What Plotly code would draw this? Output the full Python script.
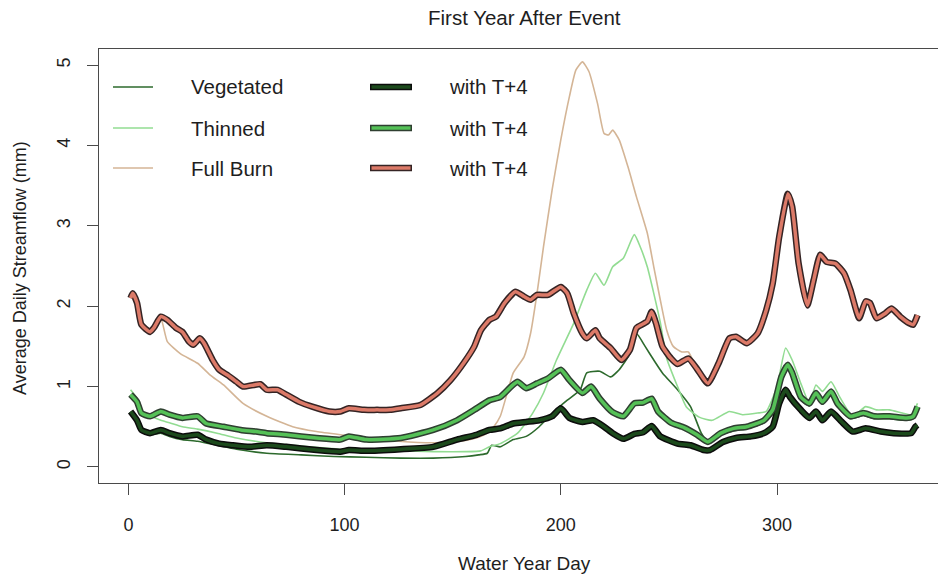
import plotly.graph_objects as go

# ---------------- data ----------------
veg_days = [1, 4, 6, 10, 15, 19, 25, 32, 41, 50, 64, 80, 95, 110, 126, 141, 156, 162, 166, 168, 172, 178, 184, 190, 196, 203,
            209, 212, 218, 223, 227, 232, 235, 239, 243, 247, 254, 260, 262, 265, 268, 274, 280, 286, 294, 298, 302, 305, 307,
            311, 315, 318, 321, 325, 328, 334, 340, 345, 352, 360, 363, 365]
veg_vals = [0.67, 0.56, 0.45, 0.40, 0.42, 0.38, 0.34, 0.32, 0.27, 0.22, 0.17, 0.15, 0.13, 0.12, 0.11, 0.11, 0.13, 0.15, 0.17, 0.27,
            0.25, 0.34, 0.38, 0.50, 0.67, 0.83, 0.96, 1.17, 1.19, 1.12, 1.21, 1.41, 1.66, 1.50, 1.33, 1.17, 0.96, 0.75, 0.62, 0.42,
            0.32, 0.40, 0.45, 0.48, 0.55, 0.66, 1.06, 1.22, 1.12, 0.84, 0.76, 0.88, 0.78, 0.90, 0.76, 0.60, 0.64, 0.60, 0.60, 0.58,
            0.60, 0.70]

thin_days = [1, 4, 6, 10, 15, 19, 25, 32, 41, 50, 64, 80, 98, 110, 126, 141, 156, 163, 167, 172, 180, 187, 192, 198, 206, 212,
             216, 220, 224, 229, 234, 237, 240, 243, 246, 249, 254, 258, 264, 270, 278, 284, 291, 295, 300, 304, 307, 311, 315,
             318, 321, 325, 329, 335, 341, 346, 352, 358, 362, 365]
thin_vals = [0.96, 0.85, 0.70, 0.64, 0.58, 0.55, 0.50, 0.47, 0.42, 0.36, 0.30, 0.26, 0.22, 0.21, 0.20, 0.19, 0.19, 0.20, 0.25,
             0.29, 0.42, 0.67, 0.92, 1.33, 1.79, 2.20, 2.41, 2.26, 2.49, 2.60, 2.89, 2.72, 2.49, 2.16, 1.80, 1.35, 1.00, 0.75,
             0.62, 0.58, 0.69, 0.65, 0.67, 0.69, 1.00, 1.48, 1.33, 1.04, 0.79, 1.02, 0.94, 1.06, 0.87, 0.63, 0.75, 0.71, 0.71,
             0.67, 0.65, 0.79]

burn_days = [1, 2, 4, 6, 10, 12, 15, 18, 24, 32, 38, 44, 53, 64, 76, 87, 98, 110, 125, 141, 156, 162, 166, 169, 172, 175, 178,
             183, 186, 189, 192, 196, 200, 204, 207, 210, 213, 217, 220, 222, 224, 227, 231, 235, 240, 243, 246, 249, 252, 256,
             259, 261, 263, 268, 273, 278, 281, 286, 291, 295, 298, 301, 305, 307, 310, 314, 317, 320, 323, 327, 331, 334, 338,
             341, 343, 346, 350, 353, 357, 361, 363, 365]
burn_vals = [2.10, 2.16, 2.04, 1.77, 1.68, 1.74, 1.85, 1.56, 1.41, 1.29, 1.14, 1.02, 0.79, 0.63, 0.50, 0.44, 0.40, 0.36, 0.32,
             0.30, 0.33, 0.37, 0.42, 0.50, 0.63, 0.90, 1.17, 1.37, 1.66, 2.16, 2.74, 3.45, 4.07, 4.61, 4.94, 5.04, 4.92, 4.52,
             4.15, 4.13, 4.19, 4.07, 3.74, 3.36, 2.91, 2.49, 2.08, 1.70, 1.50, 1.43, 1.43, 1.33, 1.25, 1.04, 1.29, 1.60, 1.62,
             1.54, 1.66, 1.95, 2.28, 2.86, 3.40, 3.24, 2.53, 2.01, 2.33, 2.64, 2.55, 2.53, 2.41, 2.20, 1.85, 2.06, 2.04, 1.85,
             1.91, 1.97, 1.87, 1.79, 1.77, 1.89]

veg4_days = [1, 4, 6, 10, 15, 19, 25, 32, 36, 42, 48, 56, 64, 73, 87, 98, 102, 110, 126, 141, 152, 161, 167, 172, 178, 184, 190,
             196, 200, 204, 210, 215, 220, 224, 229, 234, 238, 242, 246, 254, 260, 266, 269, 275, 281, 288, 294, 298, 301, 304,
             306, 311, 315, 318, 321, 325, 330, 335, 341, 348, 354, 362, 364, 365]
veg4_vals = [0.69, 0.58, 0.46, 0.42, 0.46, 0.42, 0.38, 0.40, 0.34, 0.29, 0.27, 0.25, 0.27, 0.25, 0.21, 0.19, 0.21, 0.20, 0.22,
             0.25, 0.34, 0.40, 0.46, 0.48, 0.54, 0.56, 0.58, 0.63, 0.73, 0.61, 0.56, 0.58, 0.50, 0.42, 0.35, 0.41, 0.43, 0.51,
             0.38, 0.29, 0.27, 0.21, 0.21, 0.31, 0.36, 0.38, 0.42, 0.50, 0.79, 0.96, 0.87, 0.71, 0.61, 0.69, 0.58, 0.69, 0.56,
             0.44, 0.48, 0.44, 0.42, 0.42, 0.50, 0.52]

thin4_days = [1, 4, 6, 10, 15, 19, 25, 32, 36, 44, 52, 59, 64, 73, 87, 98, 102, 110, 126, 141, 152, 160, 167, 172, 177, 180, 184,
              189, 194, 200, 204, 210, 214, 218, 224, 229, 234, 238, 242, 245, 251, 257, 263, 268, 274, 280, 286, 294, 298, 302,
              305, 307, 311, 315, 318, 321, 325, 328, 334, 340, 345, 352, 360, 363, 365]
thin4_vals = [0.90, 0.81, 0.67, 0.63, 0.69, 0.65, 0.61, 0.63, 0.54, 0.50, 0.46, 0.44, 0.42, 0.40, 0.36, 0.34, 0.38, 0.34, 0.36,
              0.46, 0.58, 0.71, 0.83, 0.87, 1.00, 1.06, 0.98, 1.04, 1.10, 1.21, 1.08, 0.92, 1.00, 0.85, 0.68, 0.63, 0.79, 0.80,
              0.85, 0.69, 0.55, 0.49, 0.40, 0.31, 0.42, 0.48, 0.50, 0.58, 0.71, 1.12, 1.27, 1.17, 0.87, 0.79, 0.92, 0.81, 0.94,
              0.79, 0.63, 0.67, 0.63, 0.63, 0.61, 0.63, 0.75]

burn4_days = [1, 2, 4, 6, 10, 12, 15, 18, 22, 25, 28, 30, 33, 35, 39, 42, 46, 50, 53, 58, 61, 64, 69, 73, 79, 85, 93, 98, 102,
              109, 115, 121, 126, 135, 143, 149, 155, 160, 163, 167, 170, 174, 179, 183, 186, 189, 194, 200, 203, 206, 210, 212,
              216, 218, 223, 228, 232, 235, 240, 242, 244, 247, 251, 254, 259, 263, 268, 273, 278, 281, 286, 291, 295, 298, 301,
              305, 307, 310, 314, 317, 320, 323, 327, 331, 334, 338, 341, 343, 346, 350, 353, 357, 361, 363, 365]
burn4_vals = [2.10, 2.16, 2.04, 1.77, 1.68, 1.74, 1.87, 1.83, 1.73, 1.68, 1.56, 1.52, 1.60, 1.54, 1.33, 1.21, 1.14, 1.06, 1.00,
              1.02, 1.03, 0.96, 0.96, 0.90, 0.81, 0.75, 0.69, 0.69, 0.73, 0.71, 0.71, 0.71, 0.73, 0.77, 0.92, 1.08, 1.29, 1.50,
              1.70, 1.83, 1.87, 2.04, 2.18, 2.12, 2.08, 2.14, 2.14, 2.24, 2.16, 1.91, 1.66, 1.60, 1.70, 1.60, 1.48, 1.33, 1.46,
              1.73, 1.81, 1.93, 1.79, 1.50, 1.35, 1.28, 1.35, 1.22, 1.04, 1.29, 1.60, 1.62, 1.54, 1.66, 1.95, 2.28, 2.86, 3.40,
              3.24, 2.53, 2.01, 2.33, 2.64, 2.55, 2.53, 2.41, 2.20, 1.85, 2.06, 2.04, 1.85, 1.91, 1.97, 1.87, 1.79, 1.77, 1.89]

x_ticks = [0, 100, 200, 300]
y_ticks = [0, 1, 2, 3, 4, 5]
legend_left = ["Vegetated", "Thinned", "Full Burn"]
legend_right = ["with T+4", "with T+4", "with T+4"]

# ---------------- styles ----------------
FONT = "Liberation Sans, Arial, Helvetica, sans-serif"
TXT = "#1e1e1e"
W, H = 938, 577
L, R, T, B = 99, 0, 49, 94
PW, PH = W - L - R, H - T - B

C_VEG = "#2d6a2d"
C_THIN = "#92dc92"
C_BURN = "#d4b596"
thick_styles = [
    ("#0c0c0c", "#1c4a1c"),   # veg T+4
    ("#2f3f31", "#55c157"),   # thinned T+4
    ("#352424", "#dc7a68"),   # burn T+4
]

SPL = dict(shape="spline", smoothing=0.5)

fig = go.Figure()
for d, v, c in [(veg_days, veg_vals, C_VEG), (thin_days, thin_vals, C_THIN), (burn_days, burn_vals, C_BURN)]:
    fig.add_trace(go.Scatter(x=d, y=v, mode="lines", line=dict(color=c, width=1.6, **SPL),
                             showlegend=False, hoverinfo="skip"))

for (d, v), (oc, ic) in zip([(veg4_days, veg4_vals), (thin4_days, thin4_vals), (burn4_days, burn4_vals)], thick_styles):
    fig.add_trace(go.Scatter(x=d, y=v, mode="lines", line=dict(color=oc, width=6.5, **SPL),
                             showlegend=False, hoverinfo="skip"))
    fig.add_trace(go.Scatter(x=d, y=v, mode="lines", line=dict(color=ic, width=3.5, **SPL),
                             showlegend=False, hoverinfo="skip"))


def px_x(px):
    return (px - L) / PW


def px_y(py):
    return (H - B - py) / PH


shapes = []
annotations = []
rows = [87, 128, 168]
thin_cols = [C_VEG, C_THIN, C_BURN]
for i, ry in enumerate(rows):
    shapes.append(dict(type="line", xref="paper", yref="paper", x0=px_x(113), x1=px_x(153), y0=px_y(ry), y1=px_y(ry),
                       line=dict(color=thin_cols[i], width=1.6)))
    oc, ic = thick_styles[i]
    shapes.append(dict(type="line", xref="paper", yref="paper", x0=px_x(370), x1=px_x(412), y0=px_y(ry), y1=px_y(ry),
                       line=dict(color=oc, width=6.5)))
    shapes.append(dict(type="line", xref="paper", yref="paper", x0=px_x(371.5), x1=px_x(410.5), y0=px_y(ry), y1=px_y(ry),
                       line=dict(color=ic, width=3.5)))
    annotations.append(dict(text=legend_left[i], xref="paper", yref="paper", x=px_x(189), y=px_y(ry), xanchor="left",
                            yanchor="middle", showarrow=False, font=dict(family=FONT, size=20.5, color=TXT)))
    annotations.append(dict(text=legend_right[i], xref="paper", yref="paper", x=px_x(447), y=px_y(ry), xanchor="left",
                            yanchor="middle", showarrow=False, font=dict(family=FONT, size=20.5, color=TXT)))

# axis titles
annotations.append(dict(text="Water Year Day", xref="paper", yref="paper", x=px_x(524), y=px_y(563), xanchor="center",
                        yanchor="middle", showarrow=False, font=dict(family=FONT, size=19, color=TXT)))
annotations.append(dict(text="Average Daily Streamflow (mm)", xref="paper", yref="paper", x=px_x(20), y=px_y(268),
                        xanchor="center", yanchor="middle", textangle=-90, showarrow=False,
                        font=dict(family=FONT, size=18, color=TXT)))
annotations.append(dict(text="First Year After Event", xref="paper", yref="paper", x=px_x(524), y=px_y(17),
                        xanchor="center", yanchor="middle", showarrow=False, font=dict(family=FONT, size=20.5, color=TXT)))

x0 = -13.6
x1 = x0 + PW / 2.162

fig.update_layout(
    width=W, height=H, margin=dict(l=L, r=R, t=T, b=B, pad=0),
    paper_bgcolor="white", plot_bgcolor="white",
    shapes=shapes, annotations=annotations, showlegend=False,
    font=dict(family=FONT, color=TXT),
    xaxis=dict(range=[x0, x1], tickvals=x_ticks, ticktext=[str(t) for t in x_ticks], showgrid=False, zeroline=False,
               showline=True, linecolor="#4a4a4a", linewidth=1, mirror=True, ticks="outside", ticklen=11,
               tickcolor="#4a4a4a", tickwidth=1, tickfont=dict(family=FONT, size=18, color=TXT), ticklabelstandoff=14),
    yaxis=dict(range=[-0.2, 5.2], tickvals=y_ticks, ticktext=[str(t) for t in y_ticks], showgrid=False, zeroline=False,
               showline=True, linecolor="#4a4a4a", linewidth=1, mirror=False, ticks="outside", ticklen=11,
               tickcolor="#4a4a4a", tickwidth=1, tickangle=-90, tickfont=dict(family=FONT, size=18, color=TXT),
               ticklabelstandoff=10),
)

fig.write_html("out.html")
